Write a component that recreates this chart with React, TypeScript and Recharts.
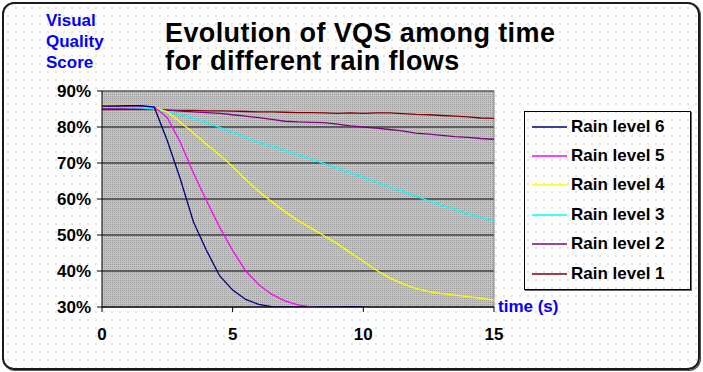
import React from 'react';
import { LineChart, Line, XAxis, YAxis, CartesianGrid, ReferenceLine } from 'recharts';

// time in seconds, 0.5 s steps
const times = [0, 0.5, 1, 1.5, 2, 2.5, 3, 3.5, 4, 4.5, 5, 5.5, 6, 6.5, 7, 7.5, 8, 8.5, 9, 9.5, 10, 10.5, 11, 11.5, 12, 12.5, 13, 13.5, 14, 14.5, 15];

// visual quality score (%) for each rain level
const rain6 = [85.8, 85.8, 85.9, 85.9, 85.5, 76.2, 65.5, 53.6, 45.7, 38.7, 34.7, 32.1, 30.7, 30.1, 30, 30, 29.9, 30, 30, 30.1, 30, null, null, null, null, null, null, null, null, null, null];
const rain5 = [85.8, 85.9, 85.9, 85.8, 85.6, 82.6, 75.7, 67.2, 59.5, 52.2, 45.7, 40, 36.2, 33.5, 31.7, 30.6, 30, 29.7, 29.8, 29.9, 29.9, null, null, null, null, null, null, null, null, null, null];
const rain4 = [86, 86, 86, 85.9, 85.5, 84.2, 81.3, 78.3, 75.2, 72.2, 69, 65.4, 62.1, 59.2, 56.5, 54, 51.9, 49.8, 47.6, 45.1, 42.7, 40.2, 38.1, 36.5, 35.2, 34.3, 33.7, 33.3, 32.9, 32.4, 31.9];
const rain3 = [85.5, 85.5, 85.4, 85.3, 85, 84.2, 83.4, 82.5, 81.2, 79.9, 78.5, 77.1, 75.7, 74.6, 73.5, 72.3, 71.1, 69.8, 68.5, 67.3, 66, 64.7, 63.4, 62.1, 60.8, 59.5, 58.3, 57.1, 55.9, 54.9, 53.9];
const rain2 = [85, 85, 85, 85, 85, 84.7, 84.4, 84.2, 84, 83.8, 83.4, 83, 82.6, 82.1, 81.6, 81.4, 81.3, 81.2, 80.8, 80.3, 80, 79.7, 79.3, 78.9, 78.3, 78, 77.7, 77.3, 77.1, 76.8, 76.6];
const rain1 = [84.8, 84.8, 84.8, 84.8, 84.8, 84.7, 84.6, 84.6, 84.5, 84.5, 84.4, 84.3, 84.2, 84.2, 84.1, 84, 84, 83.9, 83.8, 83.9, 83.8, 83.9, 83.9, 83.7, 83.5, 83.4, 83.2, 83, 82.8, 82.5, 82.4];

const xTicks = [0, 5, 10, 15];
const yTicks = [30, 40, 50, 60, 70, 80, 90];

const series = [
  { key: 'rain6', name: 'Rain level 6', color: '#000080', values: rain6 },
  { key: 'rain5', name: 'Rain level 5', color: '#ff00ff', values: rain5 },
  { key: 'rain4', name: 'Rain level 4', color: '#ffff00', values: rain4 },
  { key: 'rain3', name: 'Rain level 3', color: '#00ffff', values: rain3 },
  { key: 'rain2', name: 'Rain level 2', color: '#800080', values: rain2 },
  { key: 'rain1', name: 'Rain level 1', color: '#800000', values: rain1 },
];

const data = times.map((t, i) => {
  const row: any = { t };
  series.forEach(s => { row[s.key] = s.values[i]; });
  return row;
});

const FONT = '"Liberation Sans", Arial, sans-serif';

const LegendBox = () => (
  <div style={{
    position: 'absolute', left: 524, top: 111, width: 167, height: 179, boxSizing: 'border-box',
    border: '1px solid #000', boxShadow: '1px 1px 0 #666',
    fontWeight: 'bold', fontSize: 17, color: '#000',
  }}>
    {series.map(s => (
      <div key={s.key} style={{ height: 29.4, display: 'flex', alignItems: 'center' }}>
        <svg width={46} height={4} style={{ display: 'block' }}>
          <line x1={7} x2={42} y1={2} y2={2} stroke={s.color} strokeWidth={1.5} />
        </svg>
        <span>{s.name}</span>
      </div>
    ))}
  </div>
);

export default function App() {
  return (
    <div style={{ position: 'absolute', left: 0, top: 0, width: 703, height: 372, background: '#fff', fontFamily: FONT }}>
      <div style={{
        position: 'absolute', left: 2, top: 2, width: 698, height: 368, boxSizing: 'border-box',
        border: '2px solid #1a1a1a', borderRadius: 12, boxShadow: '1px 1px 0 #555',
        backgroundImage: 'radial-gradient(circle, #c4c4c4 0.6px, transparent 0.8px)', backgroundSize: '8px 8px',
      }} />
      <div style={{ position: 'absolute', left: 46, top: 9.6, color: '#0000ff', fontWeight: 'bold', fontSize: 17, lineHeight: '21px' }}>
        Visual<br />Quality<br />Score
      </div>
      <div style={{ position: 'absolute', left: 165, top: 19, color: '#000', fontWeight: 'bold', fontSize: 27, lineHeight: '28px', letterSpacing: 0.4, whiteSpace: 'nowrap' }}>
        Evolution of VQS among time<br />for different rain flows
      </div>
      <div style={{ position: 'absolute', left: 498, top: 297, color: '#0000ff', fontWeight: 'bold', fontSize: 17, whiteSpace: 'nowrap' }}>
        time (s)
      </div>
      <LegendBox />
      <div style={{ position: 'absolute', left: 0, top: 0 }}>
        <LineChart width={703} height={372} data={data} margin={{ top: 91, right: 209, bottom: 0, left: 42 }}>
          <defs>
            <pattern id="plotDots" width="2" height="2" patternUnits="userSpaceOnUse">
              <rect width="2" height="2" fill="#c4c4c4" />
              <rect width="1" height="1" fill="#9a9a9a" />
            </pattern>
          </defs>
          <CartesianGrid vertical={false} stroke="#000" fill="url(#plotDots)" fillOpacity={1} />
          <ReferenceLine y={90} stroke="#808080" />
          <ReferenceLine x={15} stroke="#808080" />
          <XAxis
            dataKey="t" type="number" domain={[0, 15]} ticks={xTicks} height={65}
            tickSize={5} tickMargin={16} stroke="#000"
            tick={{ fill: '#000', fontSize: 17, fontWeight: 'bold', fontFamily: FONT }}
          />
          <YAxis
            type="number" domain={[30, 90]} ticks={yTicks} width={60} tickFormatter={(v) => `${v}%`}
            tickSize={5} tickMargin={6} stroke="#000" allowDataOverflow
            tick={{ fill: '#000', fontSize: 17, fontWeight: 'bold', fontFamily: FONT }}
          />
          {[...series].reverse().map(s => (
            <Line
              key={s.key}
              type="linear"
              dataKey={s.key}
              name={s.name}
              stroke={s.color}
              strokeWidth={1.3}
              dot={false}
              activeDot={false}
              isAnimationActive={false}
            />
          ))}
        </LineChart>
      </div>
    </div>
  );
}
